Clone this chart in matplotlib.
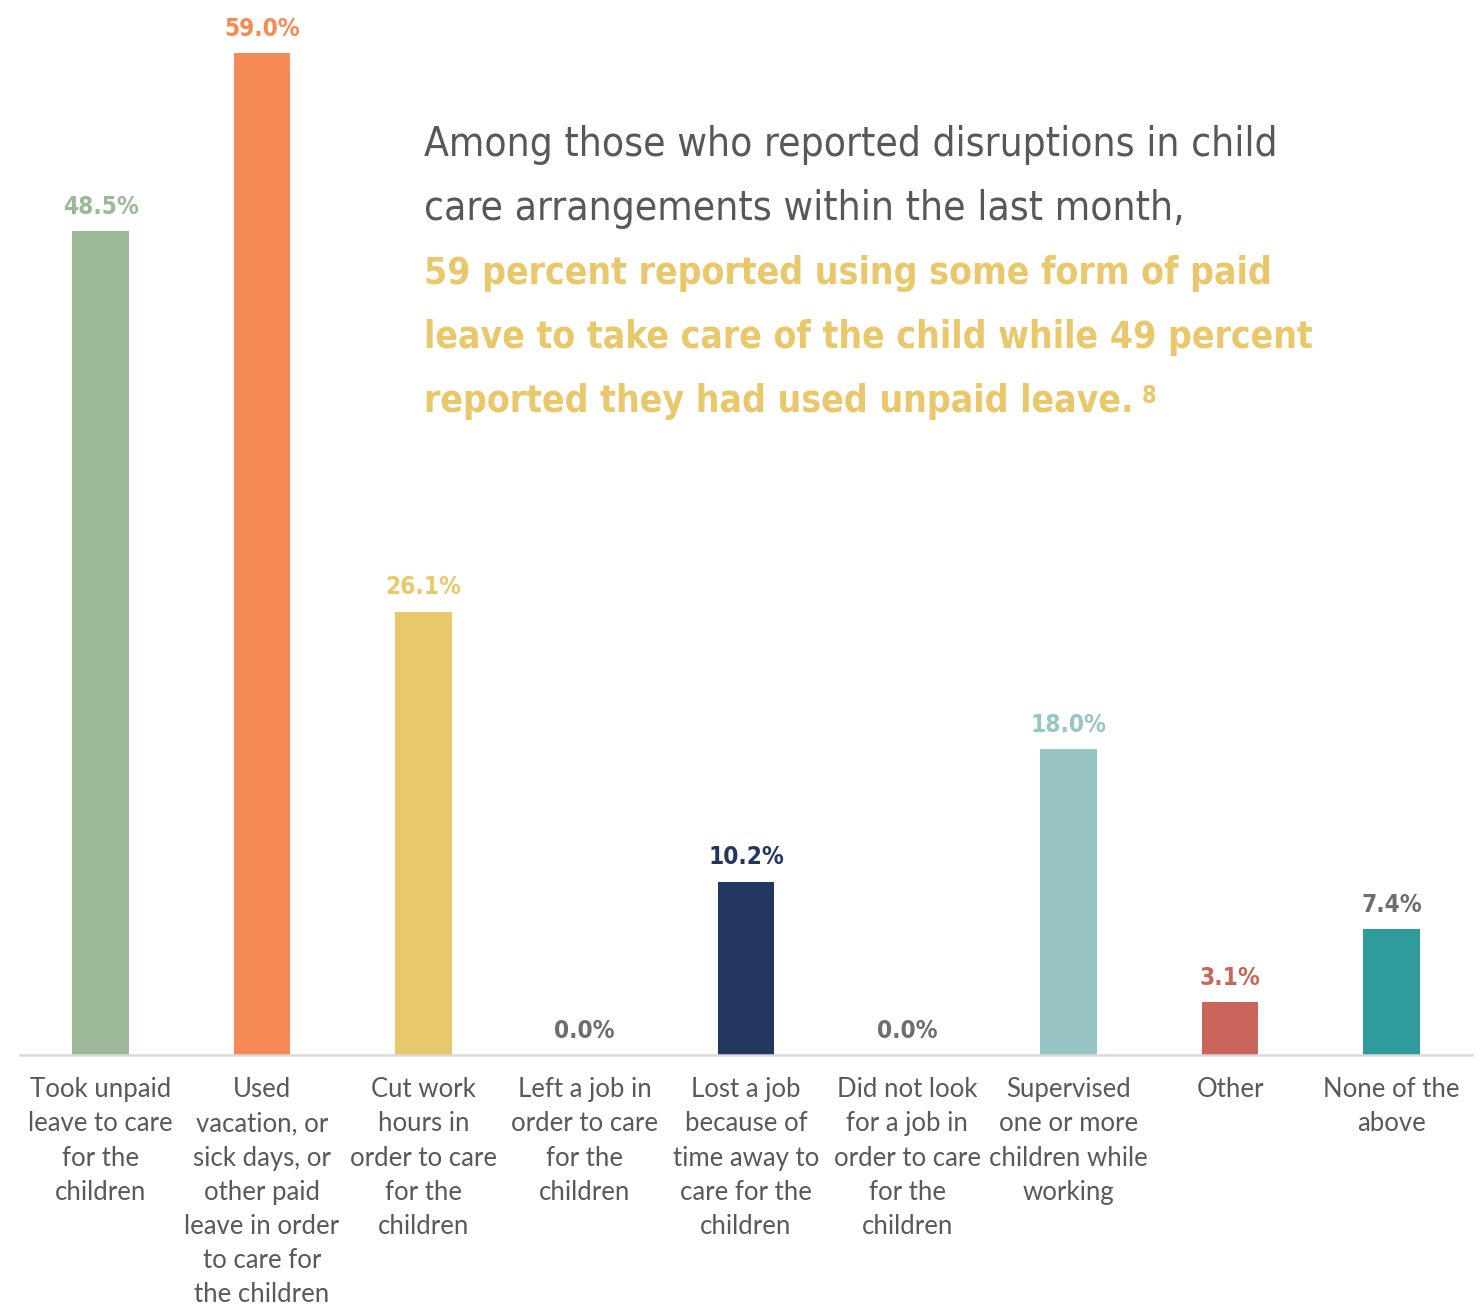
import matplotlib
matplotlib.use('Agg')
import matplotlib.pyplot as plt

# data
categories = [
    'Took unpaid\nleave to care\nfor the\nchildren',
    'Used\nvacation, or\nsick days, or\nother paid\nleave in order\nto care for\nthe children',
    'Cut work\nhours in\norder to care\nfor the\nchildren',
    'Left a job in\norder to care\nfor the\nchildren',
    'Lost a job\nbecause of\ntime away to\ncare for the\nchildren',
    'Did not look\nfor a job in\norder to care\nfor the\nchildren',
    'Supervised\none or more\nchildren while\nworking',
    'Other',
    'None of the\nabove',
]
values = [48.5, 59.0, 26.1, 0.0, 10.2, 0.0, 18.0, 3.1, 7.4]
bar_colors = ['#9BB996', '#F58A55', '#E8C86A', '#6E6E6E', '#22375F',
              '#6E6E6E', '#97C5C5', '#C9655B', '#2F9B9D']
label_colors = ['#9BB996', '#F58A55', '#E8C86A', '#6E6E6E', '#22375F',
                '#6E6E6E', '#97C5C5', '#C9655B', '#6E6E6E']

fig = plt.figure(figsize=(14.83, 13.08), dpi=100)
ax = fig.add_axes([20 / 1483, 1 - 1055 / 1308, 1452 / 1483, 1055 / 1308])

x = range(len(values))
ax.bar(x, values, width=0.35, color=bar_colors)
ax.set_xlim(-0.5, len(values) - 0.5)
ax.set_ylim(0, 62.13)

for i, v in enumerate(values):
    ax.annotate(f'{v:.1f}%', (i, v), xytext=(0, 9), textcoords='offset points',
                ha='center', va='bottom', fontsize=17.5, fontweight='bold',
                fontstretch='condensed', family='DejaVu Sans', color=label_colors[i])

ax.set_xticks(list(x))
ax.set_xticklabels(categories, fontsize=18.5, family='Lato', color='#595959', linespacing=1.46)
ax.tick_params(axis='x', length=0, pad=16)
ax.set_yticks([])
for s in ['top', 'left', 'right']:
    ax.spines[s].set_visible(False)
ax.spines['bottom'].set_color('#D9D9D9')
ax.spines['bottom'].set_linewidth(1.8)

# callout text
gray_lines = ['Among those who reported disruptions in child',
              'care arrangements within the last month,']
gold_lines = ['59 percent reported using some form of paid',
              'leave to take care of the child while 49 percent',
              'reported they had used unpaid leave.']
x0 = 424 / 1483
ys = [145, 209, 273, 337, 401]
for j, line in enumerate(gray_lines):
    fig.text(x0, 1 - ys[j] / 1308, line, fontsize=29.2, color='#58585A',
             family='DejaVu Sans', fontstretch='condensed', va='center')
last = None
for j, line in enumerate(gold_lines):
    last = fig.text(x0, 1 - ys[j + 2] / 1308, line, fontsize=26.7, color='#E8C86A',
                    family='DejaVu Sans', fontstretch='condensed', fontweight='bold', va='center')

fig.canvas.draw()
bb = last.get_window_extent()
fig.text((bb.x1 + 8) / fig.bbox.width, (bb.y1 - 1) / fig.bbox.height, '8', fontsize=17,
         color='#E8C86A', family='DejaVu Sans', fontstretch='condensed',
         fontweight='bold', va='top')

fig.savefig('out.png', dpi=100)
